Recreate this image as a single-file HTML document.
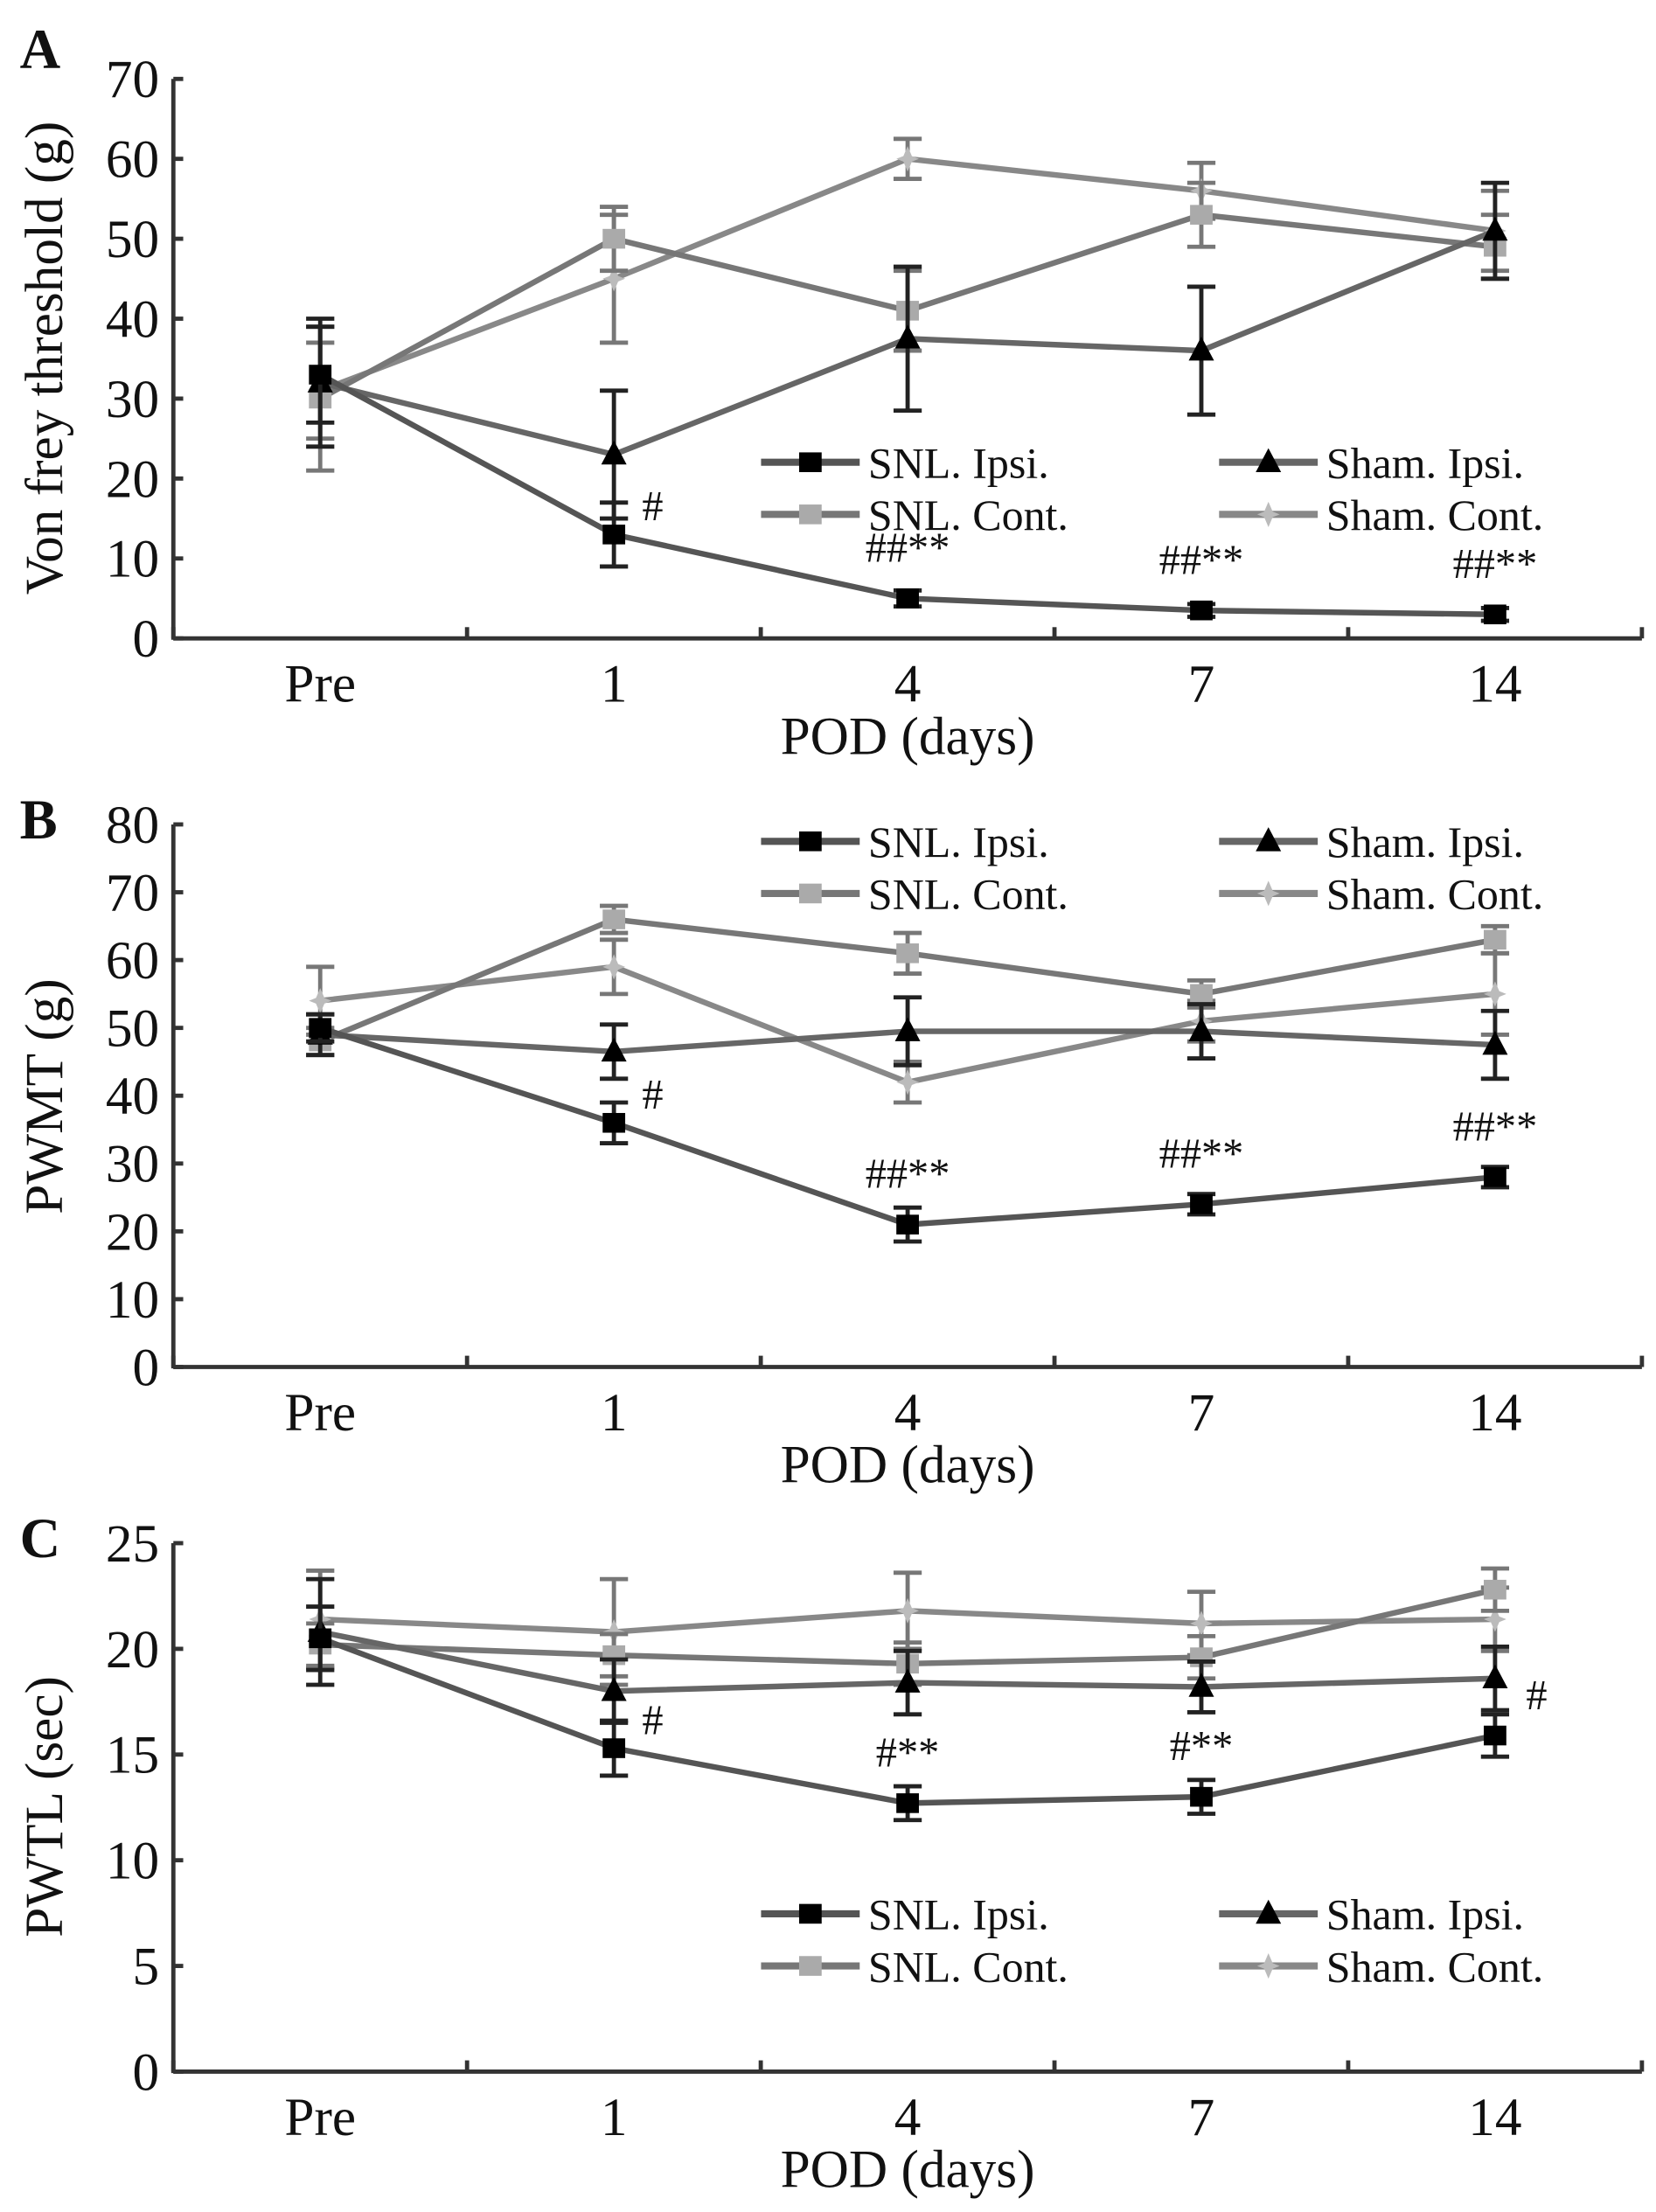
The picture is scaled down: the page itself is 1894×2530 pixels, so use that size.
<!DOCTYPE html>
<html><head><meta charset="utf-8"><style>
html,body{margin:0;padding:0;background:#fff;}
svg{display:block;}
text{font-family:"Liberation Serif","Times New Roman",serif;fill:#111;}
</style></head><body>
<svg id="fig" width="1894" height="2530" viewBox="0 0 1175 1569.6" preserveAspectRatio="none" font-family="Liberation Serif, Times New Roman, serif" xmlns="http://www.w3.org/2000/svg"></svg>
<script>
const categories = ["Pre","1","4","7","14"];
const seriesNames = ["SNL. Ipsi.","SNL. Cont.","Sham. Ipsi.","Sham. Cont."];
// Panel A
const aSnlIpsi = [33,13,5,3.5,3];
const aSnlIpsiErr = [6,4,1,0.8,0.8];
const aSnlCont = [30,50,41,53,49];
const aSnlContErr = [9,4,5,4,4];
const aShamIpsi = [32,23,37.5,36,51];
const aShamIpsiErr = [8,8,9,8,6];
const aShamCont = [31,45,60,56,51];
const aShamContErr = [6,8,2.5,3.5,5];
const aTicks = [0,10,20,30,40,50,60,70];
// Panel B
const bSnlIpsi = [50,36,21,24,28];
const bSnlIpsiErr = [2,3,2.5,1.5,1.5];
const bSnlCont = [48,66,61,55,63];
const bSnlContErr = [2,2,3,2,2];
const bShamIpsi = [49,46.5,49.5,49.5,47.5];
const bShamIpsiErr = [3,4,5,4,5];
const bShamCont = [54,59,42,51,55];
const bShamContErr = [5,4,3,3,6];
const bTicks = [0,10,20,30,40,50,60,70,80];
// Panel C
const cSnlIpsi = [20.5,15.3,12.7,13,15.9];
const cSnlIpsiErr = [1.5,1.3,0.8,0.8,1];
const cSnlCont = [20.2,19.7,19.3,19.6,22.8];
const cSnlContErr = [1,1,1,1,1];
const cShamIpsi = [20.8,18,18.4,18.2,18.6];
const cShamIpsiErr = [2.5,1.5,1.5,1.2,1.5];
const cShamCont = [21.4,20.8,21.8,21.2,21.4];
const cShamContErr = [2.3,2.5,1.8,1.5,1.5];
const cTicks = [0,5,10,15,20,25];
// annotations
const aAnnot = ["","#","##**","##**","##**"];
const bAnnot = ["","#","##**","##**","##**"];
const cAnnot = ["","#","#**","#**","#"];

const NS="http://www.w3.org/2000/svg";
const svg=document.getElementById('fig');
function mk(tag,attrs,parent){const e=document.createElementNS(NS,tag);for(const k in attrs)e.setAttribute(k,attrs[k]);(parent||svg).appendChild(e);return e;}

const styles=[
 {line:"#555",fill:"#000",shape:"sq"},
 {line:"#777",fill:"#aaa",shape:"sq"},
 {line:"#666",fill:"#000",shape:"tri"},
 {line:"#888",fill:"#bbb",shape:"star"}
];
function marker(g,shape,x,y,fill){
  if(shape==="sq") return mk('rect',{x:x-8,y:y-7,width:16,height:14,fill:fill},g);
  if(shape==="tri") return mk('polygon',{points:`${x},${y-10} ${x-9},${y+7} ${x+9},${y+7}`,fill:fill},g);
  return mk('polygon',{points:`${x},${y-9} ${x+3},${y-2} ${x+8},${y} ${x+3},${y+2} ${x},${y+9} ${x-3},${y+2} ${x-8},${y} ${x-3},${y-2}`,fill:fill},g);
}
function txt(parent,attrs,s){const t=mk('text',Object.assign({'font-family':'Liberation Serif, Times New Roman, serif'},attrs),parent);t.textContent=s;return t;}

function panel(cfg){
  const x0=123,x1=1165;
  const yScale=v=>cfg.y0-(v/cfg.max)*(cfg.y0-cfg.yTop);
  const step=(x1-x0)/5;
  const xScale=i=>x0+step*(i+0.5);
  const g=mk('g',{});
  
  
  const lab=txt(g,{x:14,y:cfg.letterY,'font-size':40,'font-weight':'bold'},cfg.letter);
  
  const ax=mk('g',{stroke:'#333','stroke-width':3},g);
  
  mk('line',{x1:x0,y1:cfg.yTop,x2:x0,y2:cfg.y0+1},ax);
  mk('line',{x1:x0,y1:cfg.y0,x2:x1,y2:cfg.y0},ax);
  for(let i=0;i<=5;i++) mk('line',{x1:x0+step*i,y1:cfg.y0,x2:x0+step*i,y2:cfg.y0-8},ax);
  cfg.ticks.forEach(t=>{
    const y=yScale(t);
    mk('line',{x1:x0,y1:y,x2:x0+7,y2:y},ax);
    const tx=txt(g,{x:x0-10,y:y+13,'font-size':38,'text-anchor':'end'},t);
    
  });
  categories.forEach((c,i)=>{
    const tx=txt(g,{x:xScale(i),y:cfg.y0+45,'font-size':38,'text-anchor':'middle'},c);
    
  });
  const xt=txt(g,{x:644,y:cfg.y0+82,'font-size':38,'text-anchor':'middle'},"POD (days)");
  
  const yt=txt(g,{x:0,y:0,'font-size':38,'text-anchor':'middle',transform:`translate(44,${cfg.yTitleY}) rotate(-90)`},cfg.ytitle);
  
  [3,1,2,0].forEach(si=>{
    const vals=cfg.series[si],errs=cfg.errs[si],st=styles[si];
    const sg=mk('g',{},g);
    
    
    mk('polyline',{points:vals.map((v,i)=>xScale(i)+','+yScale(v)).join(' '),fill:'none',stroke:st.line,'stroke-width':4},sg);
    vals.forEach((v,i)=>{
      const x=xScale(i),yt2=yScale(v+errs[i]),yb=yScale(v-errs[i]);
      const eg=mk('g',{stroke:st.fill==="#000"?"#222":"#777",'stroke-width':3},sg);
      
      mk('line',{x1:x,y1:yt2,x2:x,y2:yb},eg);
      mk('line',{x1:x-10,y1:yt2,x2:x+10,y2:yt2},eg);
      mk('line',{x1:x-10,y1:yb,x2:x+10,y2:yb},eg);
      const m=marker(sg,st.shape,x,yScale(v),st.fill);
      
    });
  });
  cfg.annot.forEach((a,i)=>{
    if(!a)return;
    const v=cfg.series[0][i];
    let x=xScale(i),y=yScale(v)-26,anchor='middle';
    if(a==="#"&&i===1){x=xScale(i)+20;y=yScale(v)-10;anchor='start';}
    if(a==="#"&&i===4){x=xScale(i)+22;y=yScale(cfg.series[2][i])+22;anchor='start';}
    const t=txt(g,{x:x,y:y,'font-size':30,'text-anchor':anchor},a);
    
  });
  const lg=mk('g',{},g);
  
  const pos=[[540,cfg.legY],[540,cfg.legY+37],[865,cfg.legY],[865,cfg.legY+37]];
  seriesNames.forEach((n,si)=>{
    const [lx,ly]=pos[si],st=styles[si];
    const e=mk('g',{},lg);
    
    mk('line',{x1:lx,y1:ly,x2:lx+70,y2:ly,stroke:st.line,'stroke-width':5},e);
    marker(e,st.shape,lx+35,ly,st.fill);
    txt(e,{x:lx+76,y:ly+11,'font-size':31},n);
  });
}
panel({name:'panel-a',letter:'A',letterY:48,y0:453,yTop:56,max:70,ticks:aTicks,ytitle:'Von frey threshold (g)',yTitleY:254,
  series:[aSnlIpsi,aSnlCont,aShamIpsi,aShamCont],errs:[aSnlIpsiErr,aSnlContErr,aShamIpsiErr,aShamContErr],annot:aAnnot,legY:328});
panel({name:'panel-b',letter:'B',letterY:595,y0:970,yTop:585,max:80,ticks:bTicks,ytitle:'PWMT (g)',yTitleY:778,
  series:[bSnlIpsi,bSnlCont,bShamIpsi,bShamCont],errs:[bSnlIpsiErr,bSnlContErr,bShamIpsiErr,bShamContErr],annot:bAnnot,legY:597});
panel({name:'panel-c',letter:'C',letterY:1105,y0:1470,yTop:1095,max:25,ticks:cTicks,ytitle:'PWTL (sec)',yTitleY:1282,
  series:[cSnlIpsi,cSnlCont,cShamIpsi,cShamCont],errs:[cSnlIpsiErr,cSnlContErr,cShamIpsiErr,cShamContErr],annot:cAnnot,legY:1358});
</script>
</body></html>
